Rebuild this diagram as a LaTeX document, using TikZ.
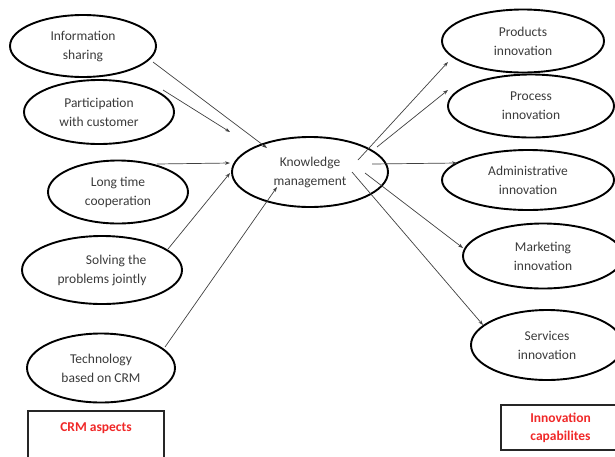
\documentclass[tikz,border=0pt]{standalone}
\usepackage{fontspec}
\setmainfont{Carlito}
\usetikzlibrary{arrows.meta,shapes.geometric}
\definecolor{txt}{HTML}{3A3A3A}
\definecolor{crmred}{HTML}{F02828}
\begin{document}
\begin{tikzpicture}[x=1pt,y=-1pt,
  every node/.style={font=\fontsize{13.5}{19}\selectfont, text=txt},
  oval/.style={ellipse, draw=black, line width=1.9pt, inner sep=0pt, align=center},
  conn/.style={draw=black!75, line width=0.7pt, -{Stealth[length=5pt,width=3.5pt]}},
  legend/.style={draw=black!85, line width=1.6pt, align=center, text=crmred, font=\bfseries\fontsize{13.5}{18}\selectfont}]
\useasboundingbox (0,0) rectangle (615,456);
\clip (0,0) rectangle (615,456);
% left ovals
\node[oval, minimum width=146pt, minimum height=62pt] (info) at (83,46) {Information\\sharing};
\node[oval, minimum width=150pt, minimum height=64pt] (part) at (99,112) {Participation\\with customer};
\node[oval, minimum width=140pt, minimum height=63pt] (long) at (118,192) {Long time\\cooperation};
\node[oval, minimum width=160pt, minimum height=68pt, align=right] (solv) at (102,270) {Solving the\\problems jointly};
\node[oval, minimum width=148pt, minimum height=69pt] (tech) at (101,368) {Technology\\based on CRM};
% center
\node[oval, minimum width=156pt, minimum height=70pt] (km) at (310,172) {Knowledge\\management};
% right ovals
\node[oval, minimum width=162pt, minimum height=63pt] (prod) at (523,41) {Products\\innovation};
\node[oval, minimum width=166pt, minimum height=63pt] (proc) at (531,106) {Process\\innovation};
\node[oval, minimum width=172pt, minimum height=60pt] (admin) at (528,180) {Administrative\\innovation};
\node[oval, minimum width=160pt, minimum height=65pt] (mark) at (543,256) {Marketing\\innovation};
\node[oval, minimum width=152pt, minimum height=70pt] (serv) at (547,345) {Services\\innovation};
% legend boxes
\draw[draw=black!85, line width=1.6pt] (28,470) -- (28,411) -- (164,411) -- (164,470);
\node[text=crmred, font=\bfseries\fontsize{13.5}{18}\selectfont] (crm) at (96,428) {CRM aspects};
\node[legend, minimum width=119pt, minimum height=45pt] (innov) at (560.5,427.5) {Innovation\\capabilites};
% connector end points
\coordinate (s1) at (153,62);  \coordinate (e1) at (267,148);
\coordinate (s2) at (163,90);  \coordinate (e2) at (230,132);
\coordinate (s3) at (157,164); \coordinate (e3) at (230,163);
\coordinate (s4) at (168,249); \coordinate (e4) at (230,173);
\coordinate (s5) at (165,347); \coordinate (e5) at (277,187);
\coordinate (t1) at (358,160); \coordinate (f1) at (448,62);
\coordinate (t2) at (377,147); \coordinate (f2) at (448,90);
\coordinate (t3) at (372,164); \coordinate (f3) at (457,163);
\coordinate (t4) at (365,173); \coordinate (f4) at (463,248);
\coordinate (t5) at (352,172); \coordinate (f5) at (483,325);
\draw[conn] (s1) -- (e1);
\draw[conn] (s2) -- (e2);
\draw[conn] (s3) -- (e3);
\draw[conn] (s4) -- (e4);
\draw[conn] (s5) -- (e5);
\draw[conn] (t1) -- (f1);
\draw[conn] (t2) -- (f2);
\draw[conn] (t3) -- (f3);
\draw[conn] (t4) -- (f4);
\draw[conn] (t5) -- (f5);
\end{tikzpicture}
\end{document}
